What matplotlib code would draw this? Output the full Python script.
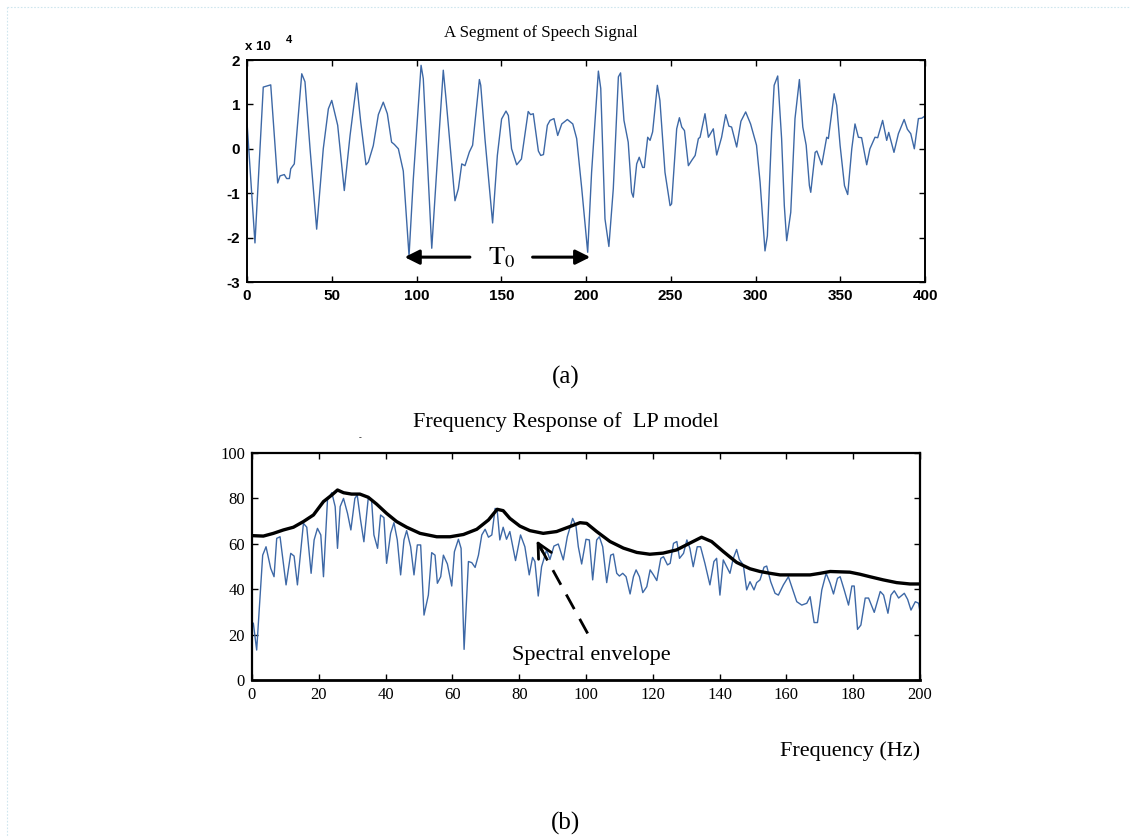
import matplotlib
matplotlib.use("Agg")
import matplotlib.pyplot as plt
from matplotlib.lines import Line2D

plt.rcParams["axes.unicode_minus"] = False
plt.rcParams["mathtext.fontset"] = "stix"

# ---------------- data: speech segment (units of 1e4) ----------------
sig_x = [0, 4.7, 9.6, 14, 18.1, 19.5, 22, 23.4, 25, 25.8, 27.9, 32.3, 34.2, 37.2, 41.1, 45, 48, 50, 51.9,
         53.5, 57.4, 60.8, 64.7, 67.1, 70.2, 71.6, 74.5, 77.5, 80.4, 82.8, 85.3, 86.9, 89.3, 92.2, 95.6, 98.1,
         102.7, 104, 109, 111.9, 115.8, 117.4, 122.7, 124.7, 126.7, 128.6, 131.2, 133.1, 137.1, 137.9, 140.4,
         144.9, 147.7, 150.2, 152.8, 154.2, 156.1, 159.1, 161.9, 165.9, 167.3, 168.9, 171.9, 173.3, 174.9,
         177.2, 178.8, 181.1, 183.3, 185.7, 189, 192.2, 194.5, 197.5, 201, 203.3, 207.3, 208.7, 211.2, 213.5,
         216.1, 219.1, 220.4, 222.4, 224.9, 226.9, 227.9, 229.9, 231.4, 233.4, 234.4, 236.4, 237.8, 239.3,
         242.1, 243.6, 246.6, 249.6, 250.5, 253.5, 255.1, 256.5, 258.1, 260.4, 262.4, 264.4, 266.3, 267.3,
         270.2, 272.2, 275.1, 277.1, 280, 282.4, 284.3, 285.9, 288.9, 291.4, 294.2, 297.1, 300.6, 302.7,
         305.6, 307, 309.5, 311, 313.1, 315.4, 317, 318.4, 320.8, 323.3, 325.9, 327.9, 329.9, 331.8, 332.6,
         335.2, 336.2, 339.1, 342, 343, 346.4, 347.9, 349.9, 352.5, 354.4, 356.8, 358.7, 360.7, 362.6, 365.6,
         367.5, 370.5, 372.1, 375, 377.4, 378.6, 381.7, 384.3, 387.7, 389.6, 391.6, 393.7, 396.1, 398.1, 400]
sig_y = [0.60, -2.12, 1.39, 1.44, -0.77, -0.61, -0.58, -0.67, -0.67, -0.45, -0.34, 1.69, 1.51, 0.0, -1.81,
         0.0, 0.90, 1.09, 0.79, 0.53, -0.94, 0.30, 1.48, 0.60, -0.36, -0.30, 0.07, 0.77, 1.05, 0.79, 0.15,
         0.10, 0.0, -0.50, -2.41, -0.69, 1.88, 1.58, -2.24, -0.50, 1.77, 1.13, -1.17, -0.90, -0.34, -0.38,
         -0.07, 0.08, 1.56, 1.43, 0.22, -1.67, -0.15, 0.67, 0.85, 0.75, 0.0, -0.36, -0.23, 0.84, 0.77, 0.79,
         -0.05, -0.15, -0.13, 0.53, 0.64, 0.68, 0.30, 0.56, 0.66, 0.56, 0.23, -0.90, -2.33, -0.53, 1.75, 1.36,
         -1.58, -2.20, -0.90, 1.62, 1.71, 0.64, 0.15, -0.98, -1.09, -0.34, -0.19, -0.42, -0.42, 0.26, 0.19,
         0.38, 1.43, 1.09, -0.53, -1.28, -1.24, 0.45, 0.70, 0.49, 0.41, -0.38, -0.26, -0.15, 0.23, 0.26,
         0.79, 0.26, 0.45, -0.14, 0.26, 0.77, 0.51, 0.49, 0.04, 0.62, 0.83, 0.56, 0.08, -0.75, -2.30, -1.96,
         0.37, 1.43, 1.64, 0.23, -1.28, -2.07, -1.43, 0.68, 1.56, 0.49, 0.08, -0.83, -0.98, -0.08, -0.05,
         -0.36, 0.26, 0.23, 1.24, 0.98, 0.08, -0.83, -1.03, 0.0, 0.56, 0.26, 0.25, -0.36, 0.0, 0.26, 0.25,
         0.64, 0.19, 0.37, -0.08, 0.34, 0.66, 0.44, 0.34, 0.0, 0.68, 0.69, 0.74]

# ---------------- data: spectrum (dB) ----------------
spec_f = [0.4, 1.4, 3.2, 4.2, 5.6, 6.6, 7.4, 8.4, 10.2, 11.6, 12.6, 13.6, 15.4, 16.4, 17.7, 18.6, 19.6,
          20.6, 21.4, 22.6, 23.9, 24.9, 25.6, 26.4, 27.4, 28.6, 29.6, 30.8, 31.5, 32.5, 33.5, 34.8, 35.8,
          36.5, 37.6, 38.5, 39.5, 40.3, 41.5, 42.5, 43.5, 44.5, 45.5, 46.3, 47.5, 48.5, 49.5, 50.5, 51.5,
          52.8, 53.8, 54.8, 55.5, 56.5, 57.3, 58.5, 59.8, 60.6, 61.8, 62.6, 63.5, 64.8, 65.8, 66.8, 67.8,
          68.8, 69.8, 70.8, 71.8, 72.8, 73.4, 74.2, 75.2, 76.2, 77.2, 78.9, 80.4, 81.7, 83.0, 84.0, 84.7,
          85.7, 86.7, 88.2, 89.2, 90.4, 91.7, 93.2, 94.4, 96.0, 97.0, 97.7, 98.7, 100.0, 101.0, 102.0,
          103.2, 104.0, 105.0, 106.2, 107.4, 108.2, 109.2, 110.0, 111.0, 112.0, 113.2, 114.2, 115.0, 116.0,
          117.0, 118.2, 119.2, 120.2, 121.2, 122.4, 123.2, 124.4, 125.2, 126.2, 127.2, 128.0, 129.2, 130.2,
          131.1, 132.1, 133.3, 134.3, 135.6, 137.1, 138.3, 139.1, 140.1, 141.1, 142.1, 143.1, 144.1, 145.1,
          145.9, 147.1, 148.1, 149.1, 150.3, 151.1, 152.1, 153.3, 154.1, 155.3, 156.6, 157.6, 159.1, 160.6,
          161.6, 163.1, 164.6, 166.1, 167.1, 168.3, 169.3, 170.6, 171.9, 173.1, 174.1, 175.3, 176.1, 177.3,
          178.6, 179.6, 180.3, 181.3, 182.3, 183.6, 184.6, 186.3, 188.1, 189.1, 190.4, 191.3, 192.3, 193.6,
          195.3, 196.3, 197.3, 198.6, 199.6, 200.0]
spec_db = [25.0, 13.2, 55.0, 58.7, 49.2, 45.5, 62.4, 63.1, 41.9, 55.8, 54.6, 41.9, 69.0, 67.3, 47.0, 61.7,
           66.8, 63.9, 45.5, 79.3, 82.5, 76.4, 58.0, 76.4, 80.0, 73.4, 66.1, 80.0, 81.5, 70.5, 60.9, 80.0,
           79.3, 63.9, 58.0, 72.7, 71.5, 51.4, 64.6, 69.3, 61.7, 46.3, 61.7, 65.8, 58.7, 46.3, 59.5, 59.5,
           28.6, 37.4, 56.1, 55.0, 42.6, 45.5, 55.0, 51.1, 41.4, 56.5, 62.0, 58.0, 13.5, 52.2, 51.7, 49.6,
           55.0, 63.9, 66.4, 62.9, 63.9, 75.6, 74.9, 61.7, 67.3, 62.0, 65.4, 52.6, 63.9, 58.7, 46.3, 54.0,
           52.2, 37.0, 49.9, 57.3, 53.1, 59.0, 59.9, 52.9, 63.1, 71.2, 67.8, 58.7, 51.1, 62.0, 61.7, 44.1,
           61.7, 63.1, 58.7, 42.9, 55.0, 55.5, 47.0, 45.8, 47.0, 45.5, 37.9, 45.5, 48.5, 45.5, 38.5, 41.1,
           48.5, 46.3, 43.8, 53.6, 54.3, 50.7, 51.4, 60.2, 61.0, 53.6, 55.8, 61.7, 58.0, 49.9, 58.7, 58.7,
           51.4, 41.9, 52.2, 53.6, 37.4, 52.9, 49.9, 47.0, 53.6, 57.5, 53.1, 50.7, 39.7, 43.3, 39.7, 42.9,
           44.1, 49.7, 50.2, 43.3, 38.2, 37.4, 41.9, 45.5, 41.1, 34.5, 33.0, 33.8, 36.7, 25.3, 25.3, 39.7,
           47.0, 42.6, 37.9, 44.8, 45.5, 39.7, 33.0, 41.4, 41.4, 22.3, 24.2, 36.1, 36.1, 29.8, 39.0, 37.4,
           29.4, 37.4, 39.3, 36.1, 38.2, 35.5, 30.8, 34.5, 33.8, 30.1]

env_f = [0, 3.4, 6.4, 9.4, 12.4, 15.4, 18.4, 21.4, 23.9, 25.6, 27.4, 29.8, 32.3, 34.8, 37.3, 40.3, 43.3,
         46.3, 50.3, 55.3, 59.3, 63.3, 67.3, 70.8, 73.4, 75.2, 77.2, 80.2, 83.2, 87.2, 91.2, 95.2, 98.2,
         100.2, 103.2, 107.2, 111.2, 115.2, 119.1, 123.1, 127.1, 131.1, 134.6, 137.6, 141.1, 145.1, 149.1,
         152.1, 155.1, 158.1, 164.1, 167.1, 170.1, 173.1, 179.0, 182.0, 185.0, 189.0, 193.0, 197.0, 200]
env_db = [63.6, 63.4, 64.6, 66.1, 67.3, 69.8, 72.7, 78.6, 81.5, 83.7, 82.5, 81.9, 81.9, 80.5, 77.5, 73.4,
          69.8, 67.3, 64.6, 63.1, 63.1, 64.1, 66.4, 70.5, 75.2, 74.6, 71.2, 67.8, 65.8, 64.6, 65.4, 67.6,
          69.3, 69.0, 65.4, 61.0, 58.1, 56.2, 55.4, 55.9, 57.3, 60.3, 62.9, 61.0, 56.6, 51.8, 49.0, 47.8,
          47.0, 46.3, 46.3, 46.3, 47.0, 47.8, 47.5, 46.6, 45.5, 44.1, 42.9, 42.3, 42.3]

top_xticks = [0, 50, 100, 150, 200, 250, 300, 350, 400]
top_yticks = [-3, -2, -1, 0, 1, 2]
bot_xticks = [0, 20, 40, 60, 80, 100, 120, 140, 160, 180, 200]
bot_yticks = [0, 20, 40, 60, 80, 100]

BLUE = "#3d68a6"
W, H = 1130, 836
fig = plt.figure(figsize=(W / 100, H / 100), dpi=100)

def fx(px):
    return px / W

def fy(py):
    return 1 - py / H

# faint dotted page border
fig.add_artist(Line2D([fx(7), fx(1130)], [fy(7), fy(7)], color="#cfe6ee", lw=0.8, ls=(0, (1.5, 1.5))))
fig.add_artist(Line2D([fx(7), fx(7)], [fy(7), fy(836)], color="#cfe6ee", lw=0.8, ls=(0, (1.5, 1.5))))

# ---------------- top axes ----------------
ax1 = fig.add_axes([fx(247), fy(282), fx(925) - fx(247), fy(60) - fy(282)])
ax1.plot(sig_x, sig_y, color=BLUE, lw=1.0)
ax1.set_xlim(0, 400)
ax1.set_ylim(-3, 2)
ax1.set_xticks(top_xticks)
ax1.set_yticks(top_yticks)
ax1.tick_params(direction="in", top=True, right=True, length=4, width=1.0, labelsize=11, pad=5)
for lab in ax1.get_xticklabels() + ax1.get_yticklabels():
    lab.set_family("Liberation Sans")
    lab.set_fontweight("bold")
for s in ax1.spines.values():
    s.set_linewidth(1.4)

# T0 arrows
ax1.annotate("", xy=(93, -2.44), xytext=(131.5, -2.44),
             arrowprops=dict(arrowstyle="-|>", color="black", lw=2.2, mutation_scale=22, shrinkA=0, shrinkB=0))
ax1.annotate("", xy=(202.5, -2.44), xytext=(168.5, -2.44),
             arrowprops=dict(arrowstyle="-|>", color="black", lw=2.2, mutation_scale=22, shrinkA=0, shrinkB=0))
ax1.text(150, -2.44, r"$\mathrm{T}_0$", ha="center", va="center", fontsize=19)

fig.text(fx(541), fy(33), "A Segment of Speech Signal", ha="center", va="center",
         fontsize=12.2, family="Liberation Serif")
fig.text(fx(245), fy(47), "x 10", ha="left", va="center", fontsize=9.5, family="Liberation Sans",
         fontweight="bold")
fig.text(fx(286), fy(40), "4", ha="left", va="center", fontsize=8, family="Liberation Sans",
         fontweight="bold")
fig.text(fx(566), fy(377), "(a)", ha="center", va="center", fontsize=18, family="Liberation Serif")

# ---------------- bottom axes ----------------
ax2 = fig.add_axes([fx(252), fy(680), fx(920) - fx(252), fy(453) - fy(680)])
ax2.plot(spec_f, spec_db, color=BLUE, lw=1.0)
ax2.plot(env_f, env_db, color="black", lw=2.4)
ax2.set_xlim(0, 200)
ax2.set_ylim(0, 100)
ax2.set_xticks(bot_xticks)
ax2.set_yticks(bot_yticks)
ax2.tick_params(direction="in", top=True, right=True, length=4, width=1.0, labelsize=12, pad=5)
for lab in ax2.get_xticklabels() + ax2.get_yticklabels():
    lab.set_family("Liberation Serif")
for s in ax2.spines.values():
    s.set_linewidth(1.6)
ax2.spines["bottom"].set_linewidth(2.0)

# dashed pointer with open arrow head
ax2.plot([100.5, 86.2], [20.5, 58.8], color="black", lw=2.0, ls=(0, (6, 4)))
ax2.annotate("", xy=(85.2, 61.5), xytext=(87.0, 56.6),
             arrowprops=dict(arrowstyle="->", color="black", lw=2.0,
                             mutation_scale=26, shrinkA=0, shrinkB=0))
ax2.text(101.5, 10.6, "Spectral envelope", ha="center", va="center", fontsize=16, family="Liberation Serif")

fig.text(fx(566), fy(422), "Frequency Response of  LP model", ha="center", va="center",
         fontsize=16, family="Liberation Serif")
fig.text(fx(360), fy(438), "-", ha="center", va="center", fontsize=6, family="Liberation Serif")
fig.text(fx(920), fy(751), "Frequency (Hz)", ha="right", va="center", fontsize=16, family="Liberation Serif")
fig.text(fx(566), fy(823), "(b)", ha="center", va="center", fontsize=18, family="Liberation Serif")

fig.savefig("out.png", dpi=100)
